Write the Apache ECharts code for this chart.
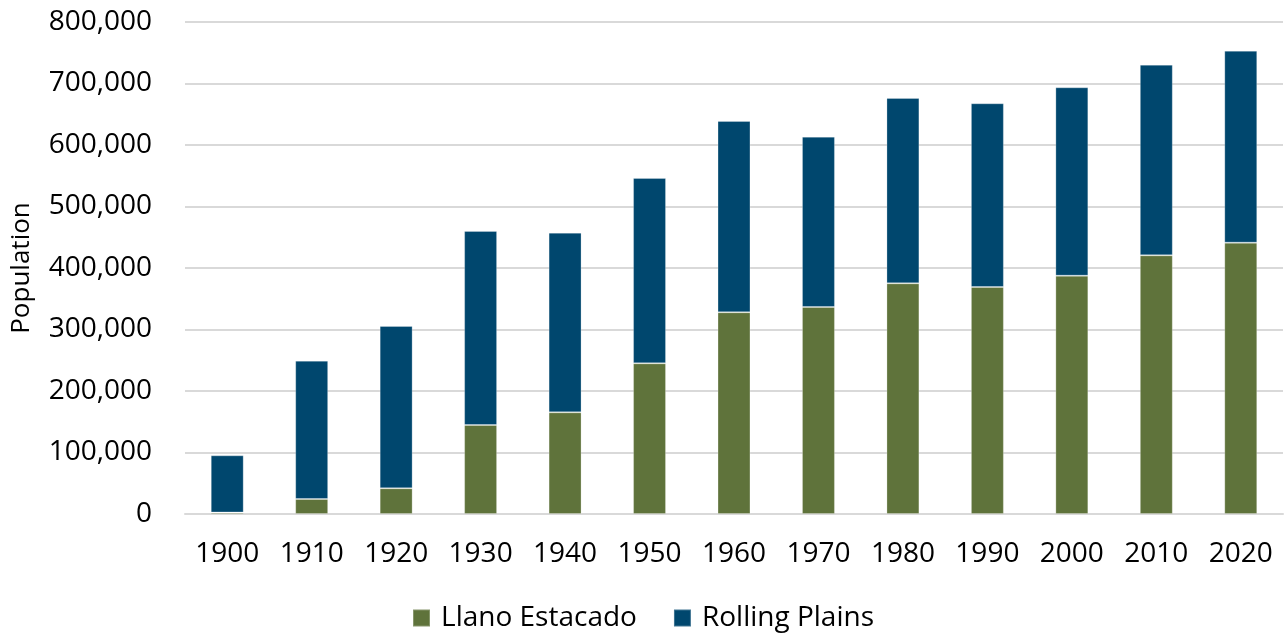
<!DOCTYPE html>
<html>
<head>
<meta charset="utf-8">
<title>Population</title>
<script src="https://cdn.jsdelivr.net/npm/echarts@6/dist/echarts.min.js"></script>
<style>
  html, body { margin: 0; padding: 0; background: #fff; }
  #chart { width: 1286px; height: 635px; }
</style>
</head>
<body>
<div id="chart"></div>
<script>
  // decades on the x axis
  var years = ['1900', '1910', '1920', '1930', '1940', '1950', '1960', '1970', '1980', '1990', '2000', '2010', '2020'];
  // bottom part of each stack
  var llanoEstacado = [2500, 24400, 41800, 144700, 165300, 245000, 328000, 336600, 375100, 369100, 387500, 420600, 441200];
  // top part of each stack
  var rollingPlains = [92900, 224900, 263900, 315500, 292100, 301300, 311000, 276900, 301300, 298700, 306300, 310000, 312100];

  var font = '"Open Sans", "Liberation Sans", sans-serif';
  var chart = echarts.init(document.getElementById('chart'));

  chart.setOption({
    animation: false,
    grid: { left: 185, right: 3, top: 22, bottom: 121, outerBoundsMode: 'none' },
    legend: {
      bottom: -2,
      left: 'center',
      itemWidth: 17,
      itemHeight: 17,
      itemGap: 36,
      icon: 'rect',
      textStyle: { fontFamily: font, fontSize: 28, color: '#000', padding: [0, 0, 0, 6] },
      data: ['Llano Estacado', 'Rolling Plains']
    },
    xAxis: {
      type: 'category',
      data: years,
      axisLine: { lineStyle: { color: '#d9d9d9', width: 2 } },
      axisTick: { show: false },
      axisLabel: { fontFamily: font, fontSize: 28, color: '#000', margin: 26 }
    },
    yAxis: {
      type: 'value',
      min: 0,
      max: 800000,
      interval: 100000,
      name: 'Population',
      nameLocation: 'middle',
      nameGap: 150,
      nameTextStyle: { fontFamily: font, fontSize: 26, color: '#000' },
      axisLine: { show: false },
      axisTick: { show: false },
      splitLine: { lineStyle: { color: '#d9d9d9', width: 2 } },
      axisLabel: {
        fontFamily: font, fontSize: 28, color: '#000', margin: 33,
        formatter: function (v) { return v.toLocaleString('en-US'); }
      }
    },
    series: [
      {
        name: 'Llano Estacado',
        type: 'bar',
        stack: 'pop',
        barWidth: '39%',
        data: llanoEstacado,
        itemStyle: { color: '#5f733b', borderColor: 'rgba(255,255,255,0.25)', borderWidth: 1 }
      },
      {
        name: 'Rolling Plains',
        type: 'bar',
        stack: 'pop',
        barWidth: '39%',
        data: rollingPlains,
        itemStyle: { color: '#00476e', borderColor: 'rgba(255,255,255,0.25)', borderWidth: 1 }
      }
    ]
  });
</script>
</body>
</html>
